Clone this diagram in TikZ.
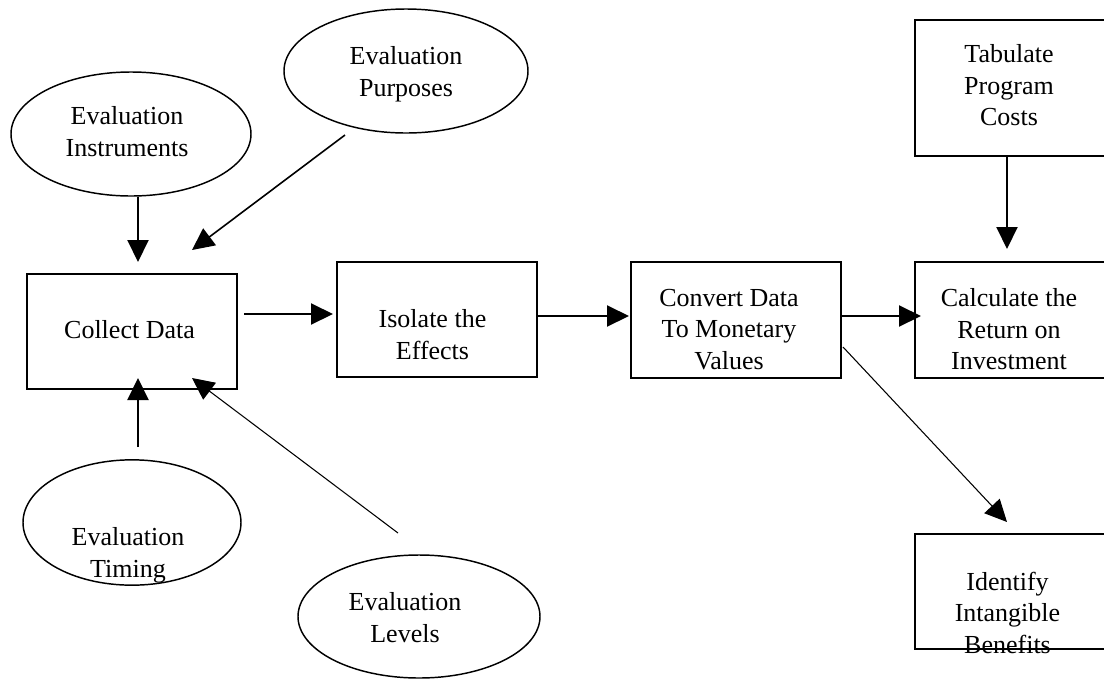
\documentclass[tikz,border=0pt]{standalone}
\usepackage{fontspec}
\setmainfont{Liberation Serif}
\usetikzlibrary{arrows.meta,shapes.geometric,calc}
\begin{document}
\begin{tikzpicture}[x=0.75pt,y=-0.75pt,
  box/.style={draw,line width=1.5pt,inner sep=0pt},
  oval/.style={draw,ellipse,line width=1.1pt,inner sep=0pt},
  lbl/.style={font=\fontsize{19.5}{23.6}\selectfont,align=center,inner sep=0pt,anchor=base},
  arr/.style={line width=1.5pt,-{Triangle[length=16.5pt,width=15.75pt]}},
  diag/.style={line width=1.2pt,-{Triangle[length=16.5pt,width=15.75pt]}},
  thinarr/.style={line width=0.8pt,-{Triangle[length=16.5pt,width=15.75pt]}}]
\useasboundingbox (0,0) rectangle (1104,679);
% ellipses
\node[oval,minimum width=180pt,minimum height=93pt] (instr) at (131,134) {};
\node[oval,minimum width=183pt,minimum height=93pt] (purp) at (406,71) {};
\node[oval,minimum width=163.5pt,minimum height=94pt] (timing) at (132,522.5) {};
\node[oval,minimum width=181.5pt,minimum height=92.25pt] (levels) at (419,616.5) {};
% boxes
\node[box,minimum width=157.5pt,minimum height=86.25pt] (collect) at (132,331.5) {};
\node[box,minimum width=150pt,minimum height=86.25pt] (isolate) at (437,319.5) {};
\node[box,minimum width=157.5pt,minimum height=87pt] (convert) at (736,320) {};
\node[box,minimum width=143.25pt,minimum height=87pt] (calc) at (1010.5,320) {};
\node[box,minimum width=143.25pt,minimum height=102pt] (tab) at (1010.5,88) {};
\node[box,minimum width=143.25pt,minimum height=86.25pt] (ident) at (1010.5,591.5) {};
% labels (anchor = baseline of last line)
\node[lbl] (instr-t) at (127,156) {Evaluation\\Instruments};
\node[lbl] (purp-t) at (406,96) {Evaluation\\Purposes};
\node[lbl] (collect-t) at (129.5,338) {Collect Data};
\node[lbl] (isolate-t) at (432.5,359) {Isolate the\\Effects};
\node[lbl] (convert-t) at (729,369) {Convert Data\\To Monetary\\Values};
\node[lbl] (calc-t) at (1009,369.5) {Calculate the\\Return on\\Investment};
\node[lbl] (tab-t) at (1009,125.5) {Tabulate\\Program\\Costs};
\node[lbl] (ident-t) at (1007.5,653) {Identify\\Intangible\\Benefits};
\node[lbl] (timing-t) at (128,577) {Evaluation\\Timing};
\node[lbl] (levels-t) at (405,642) {Evaluation\\Levels};
% connectors
\draw[arr] ($(instr.south)+(7,0)$) -- ($(collect.north)+(6,-11)$);
\draw[diag] ($(purp.center)+(-61,64)$) -- ($(collect.north)+(60,-23)$);
\draw[arr] ($(timing.north)+(6,-12)$) -- ($(collect.south)+(6,-12)$);
\draw[thinarr] ($(levels.center)+(-21,-83.5)$) -- ($(collect.south)+(60,-12)$);
\draw[arr] ($(collect.east)+(6,-17.5)$) -- ($(isolate.west)+(-3,-5.5)$);
\draw[arr] ($(isolate.east)+(0,-3.5)$) -- ($(convert.west)+(-1,-4)$);
\draw[arr] ($(convert.east)+(0,-4)$) -- ($(calc.west)+(7,-4)$);
\draw[arr] ($(tab.south)+(-3.5,0)$) -- ($(calc.north)+(-3.5,-12)$);
\draw[thinarr] ($(convert.east)+(1,27)$) -- ($(ident.north)+(-3.5,-11)$);
\end{tikzpicture}
\end{document}
